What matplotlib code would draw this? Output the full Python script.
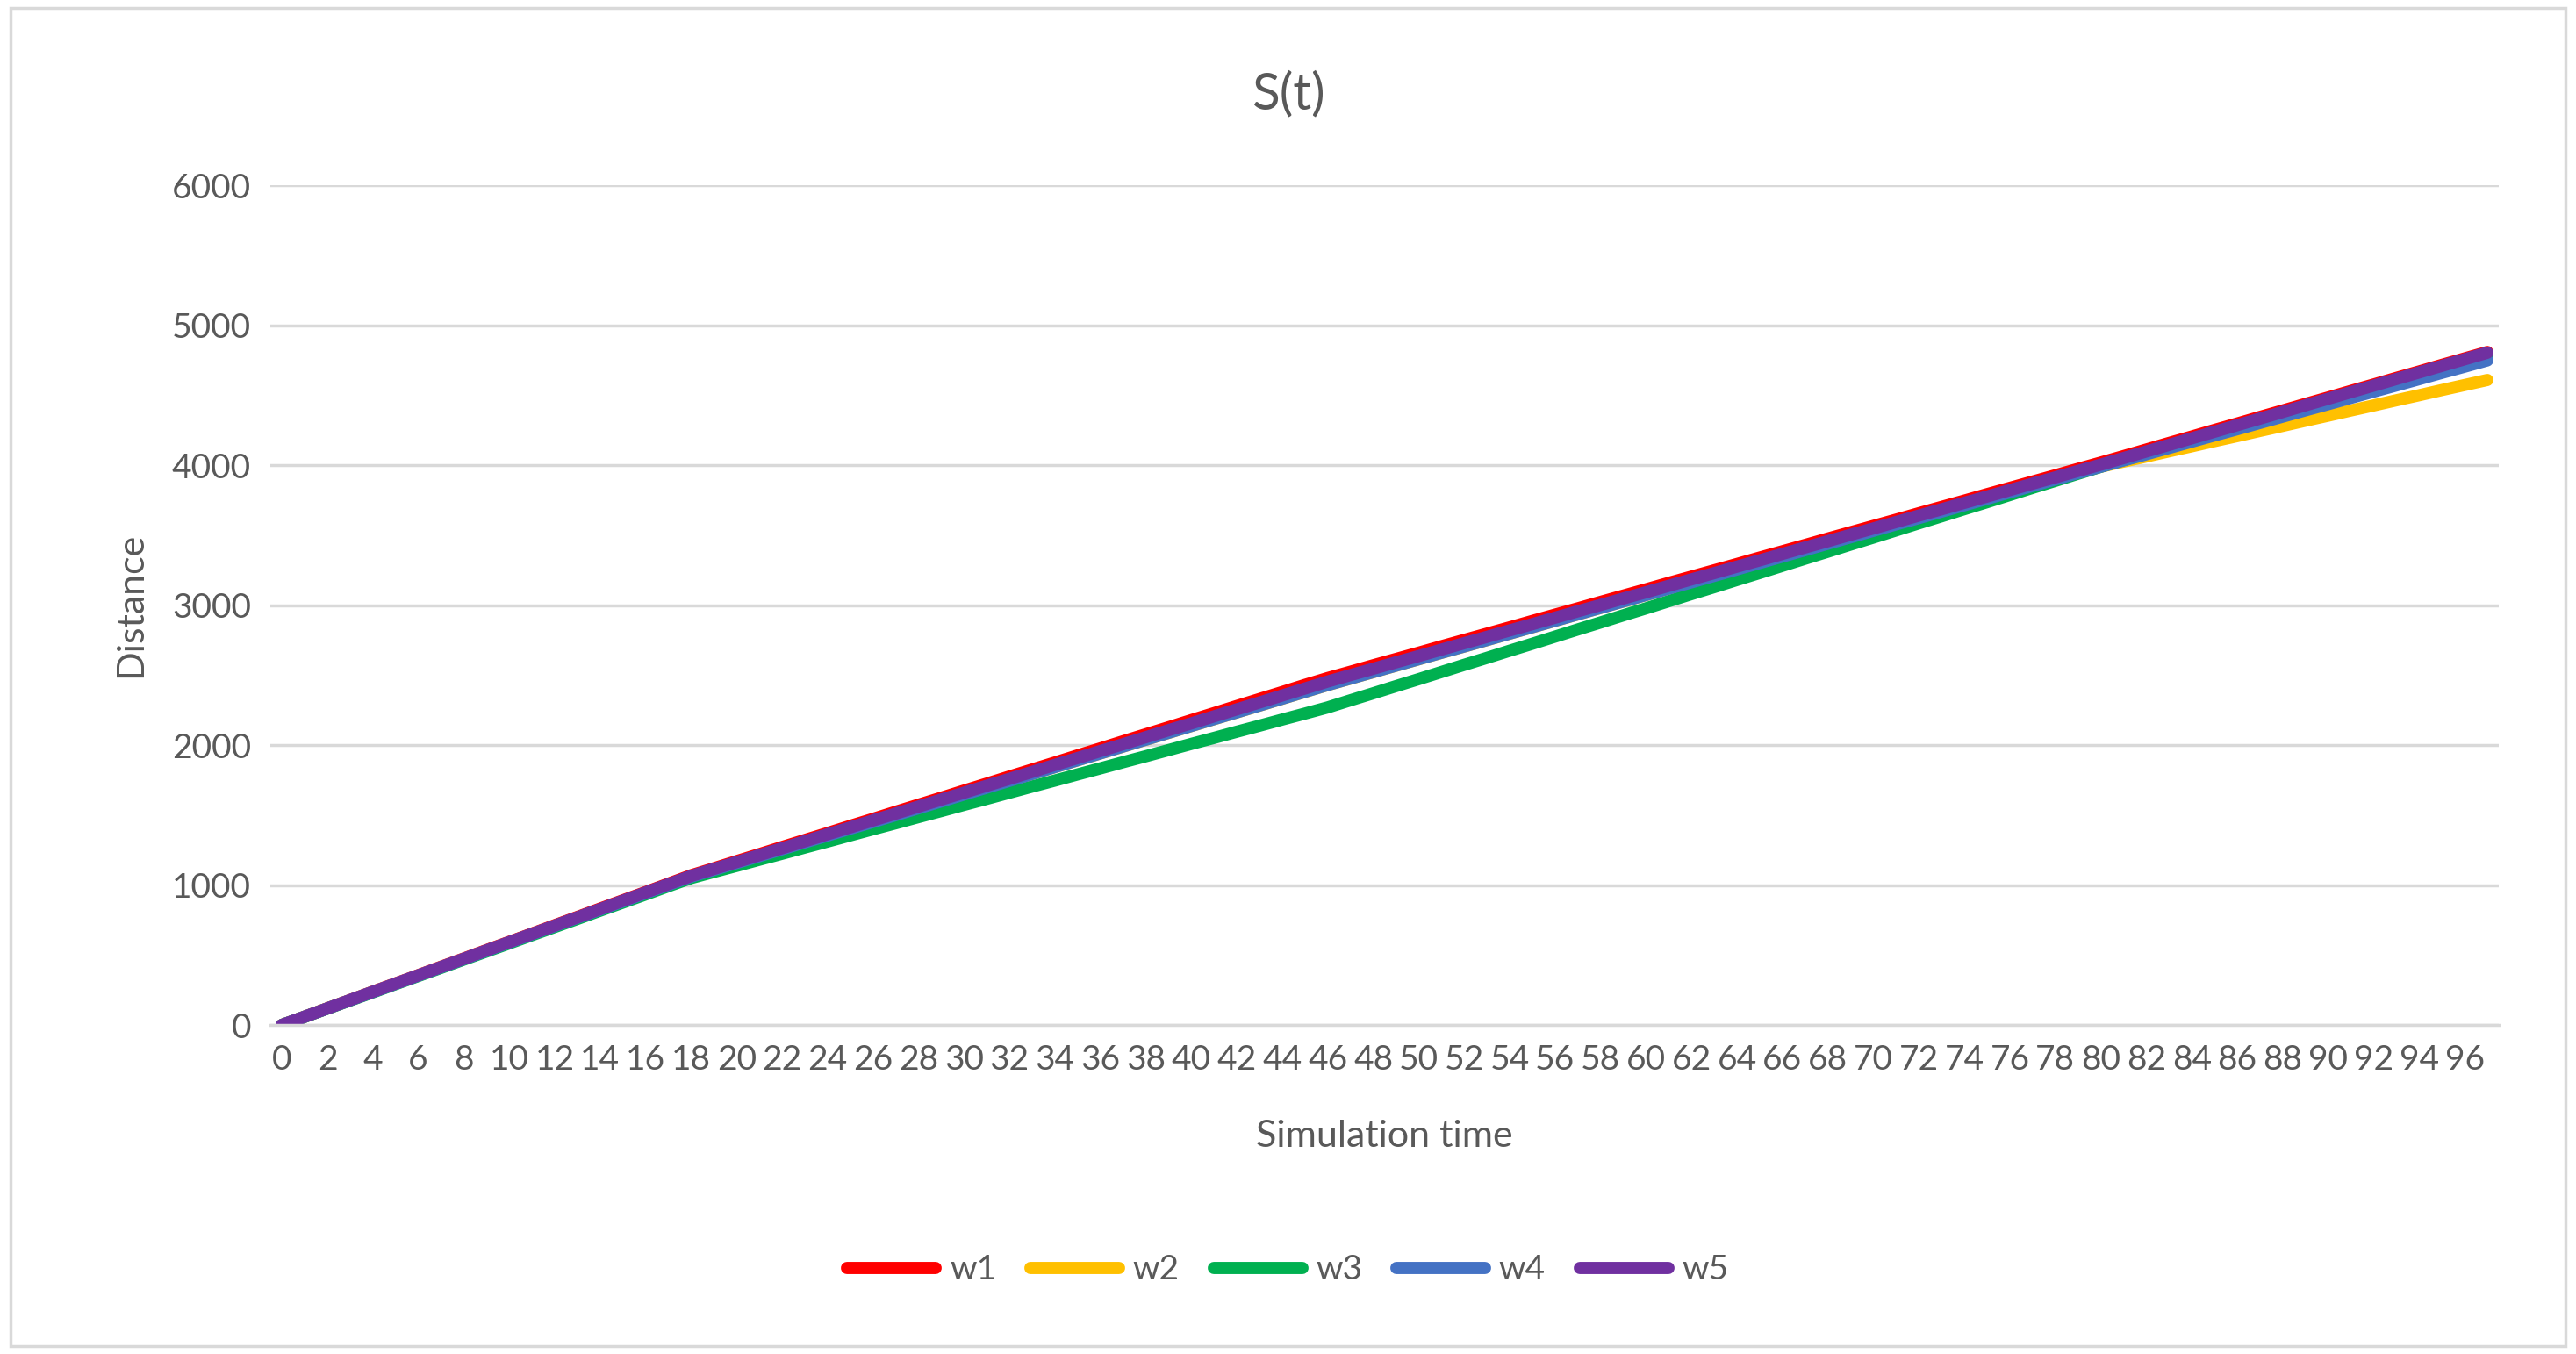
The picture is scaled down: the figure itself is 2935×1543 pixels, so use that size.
import matplotlib
matplotlib.use("Agg")
import matplotlib.pyplot as plt
from matplotlib.patches import Rectangle

plt.rcParams['font.family'] = ['Lato', 'DejaVu Sans']

t = list(range(98))
w1 = [0,59,119,178,238,297,356,416,475,535,594,653,713,772,832,891,950,1010,1070,
      1120,1171,1221,1272,1322,1372,1423,1473,1524,1574,1624,1675,1725,1776,1826,1876,1927,1977,2028,2078,2128,2179,2229,2280,2330,2380,2431,2480,
      2525,2571,2616,2661,2707,2752,2797,2842,2888,2933,2978,3024,3069,3114,3160,3205,3250,3295,3341,3386,3431,3477,3522,3567,3612,3658,3703,3748,3794,3839,3884,3929,3975,4020,
      4066,4113,4160,4206,4253,4299,4346,4392,4439,4485,4532,4578,4625,4671,4718,4764,4810]
w2 = [0,59,118,177,236,294,353,412,471,530,589,648,707,766,824,883,942,1001,1060,
      1109,1158,1207,1256,1305,1354,1403,1451,1500,1549,1598,1647,1696,1745,1794,1843,1892,1941,1990,2039,2088,2137,2186,2234,2283,2332,2381,2430,
      2476,2522,2568,2614,2660,2705,2751,2797,2843,2889,2935,2981,3027,3073,3119,3164,3210,3256,3302,3348,3394,3440,3486,3532,3578,3623,3669,3715,3761,3807,3853,3899,3945,3990,
      4027,4063,4100,4136,4173,4209,4246,4282,4319,4355,4392,4428,4465,4501,4538,4574,4610]
w3 = [0,58,117,175,233,292,350,408,467,525,583,642,700,758,817,875,933,992,1050,
      1094,1137,1181,1224,1268,1311,1355,1399,1442,1486,1529,1573,1616,1660,1704,1747,1791,1834,1878,1921,1965,2009,2052,2096,2139,2183,2226,2270,
      2321,2371,2422,2472,2523,2574,2624,2675,2725,2776,2827,2877,2928,2978,3029,3080,3130,3181,3231,3282,3333,3383,3434,3484,3535,3586,3636,3687,3737,3788,3839,3889,3940,3990,
      4037,4084,4131,4178,4225,4272,4319,4366,4413,4460,4507,4554,4601,4648,4695,4742,4790]
w4 = [0,59,118,177,236,294,353,412,471,530,589,648,707,766,824,883,942,1001,1060,
      1109,1158,1207,1256,1305,1354,1403,1451,1500,1549,1598,1647,1696,1745,1794,1843,1892,1941,1990,2039,2088,2137,2186,2234,2283,2332,2381,2430,
      2476,2522,2568,2614,2660,2705,2751,2797,2843,2889,2935,2981,3027,3073,3119,3164,3210,3256,3302,3348,3394,3440,3486,3532,3578,3623,3669,3715,3761,3807,3853,3899,3945,3990,
      4035,4079,4124,4169,4214,4258,4303,4348,4393,4437,4482,4527,4571,4616,4661,4705,4750]
w5 = [0,59,118,178,237,296,355,414,473,533,592,651,710,769,828,888,947,1006,1065,
      1115,1164,1214,1263,1313,1363,1412,1462,1511,1561,1611,1660,1710,1759,1809,1859,1908,1958,2007,2057,2107,2156,2206,2256,2305,2355,2405,2455,
      2501,2546,2592,2637,2683,2729,2774,2820,2865,2911,2957,3002,3048,3093,3139,3185,3230,3276,3321,3367,3413,3458,3504,3549,3595,3641,3686,3732,3777,3823,3869,3914,3960,4005,
      4052,4099,4146,4193,4240,4287,4334,4381,4429,4476,4523,4570,4617,4664,4711,4758,4805]
series = [("w1", w1, "#FF0000"), ("w2", w2, "#FFC000"), ("w3", w3, "#00B050"),
          ("w4", w4, "#4472C4"), ("w5", w5, "#7030A0")]
tick_labels = [str(i) for i in range(0, 97, 2)]

fig = plt.figure(figsize=(29.35, 15.43), dpi=100)
ax = fig.add_axes([0.105, 0.243, 0.865, 0.62])
for name, vals, col in series:
    ax.plot(t, vals, color=col, lw=10, label=name, solid_capstyle='round', solid_joinstyle='round')
ax.set_xlim(-0.5, 97.5)
ax.set_ylim(0, 6000)
ax.set_yticks(range(0, 6001, 1000))
ax.set_xticks(range(0, 97, 2))
ax.set_xticklabels(tick_labels)
ax.grid(axis='y', color='#D9D9D9', lw=2.5)
ax.set_axisbelow(True)
for s in ['top', 'right', 'left']:
    ax.spines[s].set_visible(False)
ax.spines['bottom'].set_color('#D9D9D9')
ax.spines['bottom'].set_linewidth(2.5)
ax.tick_params(length=0, labelsize=28, colors='#595959', pad=16)
ax.set_xlabel("Simulation time", fontsize=31, color='#595959', labelpad=36)
ax.set_ylabel("Distance", fontsize=31, color='#595959')
ax.yaxis.set_label_coords(-0.055, 0.5)
fig.text(0.5, 0.93, "S(t)", ha='center', va='center', fontsize=42, color='#595959')
fig.legend(loc='center', bbox_to_anchor=(0.5, 0.062), ncol=5, frameon=False,
           fontsize=28, labelcolor='#595959', handlelength=2.6, columnspacing=1.0, handletextpad=0.4)
fig.patches.append(Rectangle((0.004, 0.006), 0.992, 0.988, transform=fig.transFigure,
                             fill=False, edgecolor='#D9D9D9', lw=2.5))
fig.savefig("out.png", dpi=100)
